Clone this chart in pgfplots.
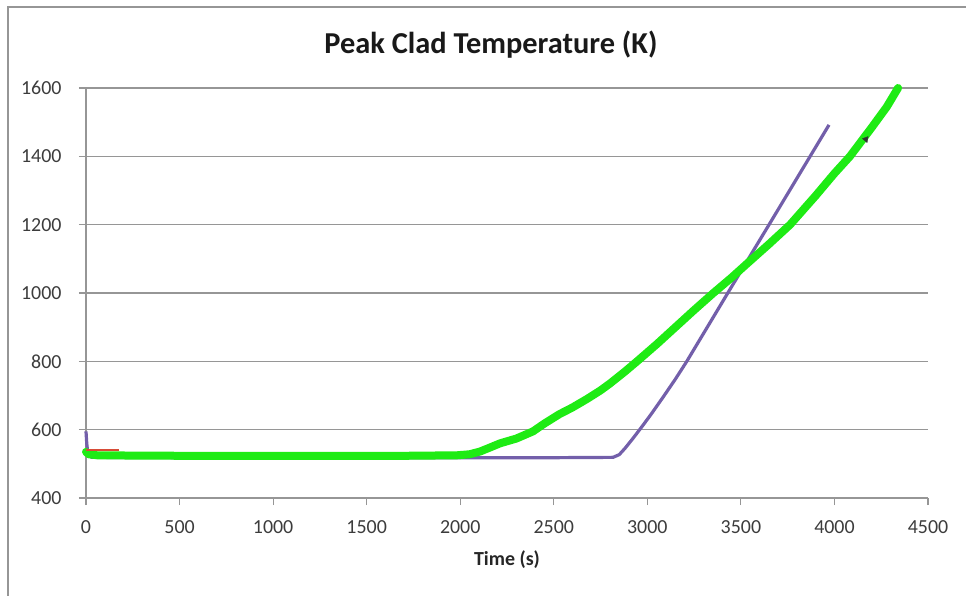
\documentclass[border=0pt]{standalone}
\usepackage{pgfplots}
\pgfplotsset{compat=1.18}
\usepackage{fontspec}
\setmainfont{Carlito}
\definecolor{gridgray}{RGB}{150,150,150}
\definecolor{lgreen}{RGB}{30,235,20}
\definecolor{lpurple}{RGB}{115,95,170}
\definecolor{lred}{RGB}{215,75,55}
\definecolor{txt}{RGB}{60,60,60}
\begin{document}
\begin{tikzpicture}
\begin{axis}[
  scale only axis, width=842bp, height=410bp,
  at={(0,0)}, anchor=south west,
  xmin=0, xmax=4500, ymin=400, ymax=1600,
  xtick={0,500,...,4500}, ytick={400,600,...,1600},
  axis x line*=bottom, axis y line*=left,
  x axis line style={-, draw=gridgray, line width=1.6bp},
  y axis line style={-, draw=gridgray, line width=1.6bp},
  ymajorgrids, grid style={draw=gridgray, line width=1.5bp},
  tick align=outside, major tick length=7bp,
  tick style={draw=gridgray, line width=1.2bp},
  scaled ticks=false,
  /pgf/number format/assume math mode=true,
  /pgf/number format/1000 sep={},
  tick label style={font=\fontsize{20}{24}\selectfont, text=txt},
  yticklabel style={anchor=east, xshift=-14bp},
  xticklabel style={anchor=north, yshift=-12bp},
  xlabel={\bfseries Time (s)},
  xlabel style={at={(axis description cs:0.5,0)}, anchor=center, yshift=-62bp, font=\fontsize{20}{24}\selectfont, text=black!85},
  clip=false,
]
\addplot[lpurple, line width=3.2bp, line join=round] coordinates {
(0,595) (4,560) (10,530) (30,519) (500,518) (1000,518) (1500,518) (2000,518) (2500,518) (2817,519)
(2850,527) (2880,545) (2924,575) (2970,608) (3020,645) (3084,695) (3150,748) (3211,800)
(3430,1000) (3656,1205) (3971,1492)
};
\addplot[lgreen, line width=8bp, line join=round, line cap=round] coordinates {
(0,535) (15,528) (60,525) (300,524) (800,523) (1200,523) (1600,523) (1983,525) (2050,528)
(2106,536) (2160,548) (2213,560) (2300,574) (2389,595) (2450,618) (2529,645) (2600,665)
(2678,690) (2750,715) (2800,735) (2880,770) (2945,800) (3050,850) (3150,900) (3250,950)
(3353,1000) (3450,1045) (3531,1085) (3650,1143) (3763,1200) (3900,1285) (4000,1350)
(4083,1400) (4200,1485) (4280,1545) (4340,1600)
};
\addplot[lred, line width=2.5bp] coordinates {(0,541) (175,541)};
\addplot[only marks, mark=triangle*, mark size=3.5bp, mark options={rotate=200, fill=black!80, draw=black!80}] coordinates {(4168,1450)};
\node[font=\fontsize{30.5}{36}\selectfont\bfseries, text=black!90] at (rel axis cs:0.481,1.105) {Peak Clad Temperature (K)};
\end{axis}
\draw[gridgray, line width=1.5bp] (-78bp,-120bp) -- (-78bp,491bp) -- (900bp,491bp);
\pgfresetboundingbox
\useasboundingbox (-86bp,-98bp) rectangle (880bp,498bp);
\end{tikzpicture}
\end{document}
